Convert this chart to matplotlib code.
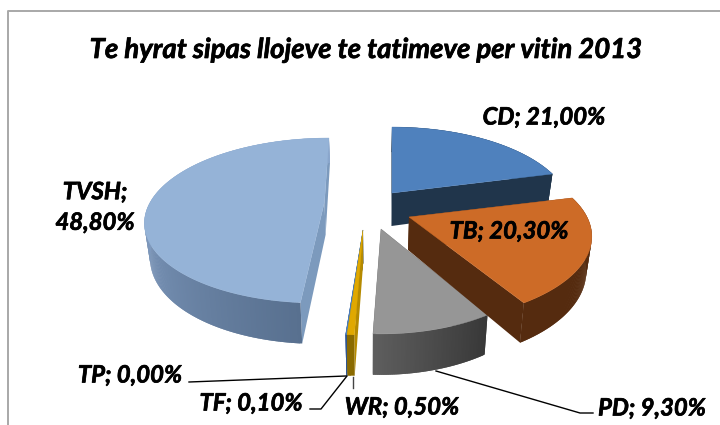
import numpy as np
import matplotlib
matplotlib.use('Agg')
import matplotlib.pyplot as plt
import matplotlib.patheffects as pe
from matplotlib.colors import to_rgb

# DATA
TITLE = 'Te hyrat sipas llojeve te tatimeve per vitin 2013'
names = ['CD', 'TB', 'PD', 'WR', 'TF', 'TP', 'TVSH']
shares = [21.0, 20.3, 9.3, 0.5, 0.1, 0.0, 48.8]

# STYLE
top_colors = ['#4f81bd', '#cd6b27', '#969696', '#e0a800', '#4f81bd', '#4f81bd', '#95b3d7']
face_colors = ['#20354b', '#552b0f', '#3c3c3c', '#b58a00', '#2f5590', '#2f5590', '#7c9abd']
wall_start = ['#20354b', '#552b0f', '#383838', '#8a6a00', '#2f5590', '#2f5590', '#58708f']
wall_end = ['#20354b', '#552b0f', '#5e5e5e', '#8a6a00', '#2f5590', '#2f5590', '#8aa6cc']
wall_fade = [1, 1, 1, 1, 1, 1, 0.55]

# where each slice tip lands on the page, pixels, and its own fit
apex = [(392, 193), (409, 217), (381, 229), (363, 230), (363, 230), (363, 230), (324.5, 201.7)]
rx = [175, 178, 165, 178, 178, 178, 174]
ry = [81, 81, 81, 81, 81, 81, 78.2]
skew = [0, 0, 0, 0, 0, 0, -24]
draw_order = [6, 0, 2, 5, 4, 3, 1]

PERSP = 0.228
WALL = 33
LEAN = 0.025
MID_X = 370

plt.rcParams['font.family'] = ['Lato', 'DejaVu Sans']


def project(theta, i, radius=1.0):
    u = radius * np.sin(theta)
    v = radius * np.cos(theta)
    p = 1 / (1 + PERSP * v)
    sx = apex[i][0] + rx[i] * u * p + skew[i] * (p - 1)
    sy = apex[i][1] - ry[i] * v * p
    return sx, sy, WALL * (1 - 0.24 * v)


def lean(x):
    return x + (MID_X - x) * LEAN


def blend(c1, c2, t):
    a, b = np.array(to_rgb(c1)), np.array(to_rgb(c2))
    return tuple(a + (b - a) * t)


fig = plt.figure(figsize=(7.2, 4.25), dpi=100)
ax = fig.add_axes([0, 0, 1, 1])
ax.set_xlim(0, 720)
ax.set_ylim(425, 0)
ax.axis('off')

# frame
ax.plot([8, 8, 720], [425, 11, 11], color='#a8a8a8', lw=1.4)

edges = np.cumsum([0] + shares) / 100 * 2 * np.pi

for i in draw_order:
    a0, a1 = edges[i], edges[i + 1]
    thetas = np.linspace(a0, a1, max(int(np.degrees(a1 - a0)) * 2, 3))
    x, y, h = project(thetas, i)
    tx, ty, th = project(0.0, i, 0)

    # cut faces
    for xe, ye, he in ((x[0], y[0], h[0]), (x[-1], y[-1], h[-1])):
        ax.fill([tx, xe, lean(xe), lean(tx)], [ty, ye, ye + he, ty + th],
                color=face_colors[i], lw=0)

    # outer wall, in small overlapping strips for the shading
    n = len(x)
    for j in range(n - 1):
        t = min(j / (max(n - 2, 1) * wall_fade[i]), 1)
        c = blend(wall_start[i], wall_end[i], t)
        k = min(j + 2, n - 1)
        ax.fill([x[j], x[k], lean(x[k]), lean(x[j])],
                [y[j], y[k], y[k] + h[k], y[j] + h[j]],
                color=c, lw=0)

    # top
    ax.fill(np.r_[tx, x], np.r_[ty, y], color=top_colors[i], lw=0.3)

# leader lines
leaders = [
    ([189, 346], [382, 376]),
    ([310, 321, 347], [409, 409, 376]),
    ([353, 353], [377, 388]),
    ([436, 580, 593], [371, 413, 413]),
]
for n, (lx, ly) in enumerate(leaders):
    ax.plot(lx, ly, color='#444444' if n == 2 else 'black', lw=1.0)

# lato bold is a bit thin next to the original, so thicken it slightly
heavy = [pe.withStroke(linewidth=0.5, foreground='black')]
label_font = dict(fontsize=17.2, fontweight='bold', fontstyle='italic', color='black',
                  va='center', path_effects=heavy)
ax.text(366, 50, TITLE, ha='center', fontsize=19.8, fontweight='bold', fontstyle='italic',
        va='center', path_effects=heavy)


def label(i, sep=' '):
    return f'{names[i]};{sep}{shares[i]:.2f}%'.replace('.', ',')


ax.text(544, 117, label(0), ha='center', **label_font)
ax.text(509, 231, label(1), ha='center', **label_font)
ax.text(652, 408, label(2), ha='center', **label_font)
ax.text(402, 407, label(3), ha='center', **label_font)
ax.text(251, 403, label(4), ha='center', **label_font)
ax.text(130, 375, label(5), ha='center', **label_font)
ax.text(95, 207, label(6, '\n'), ha='center', linespacing=1.4, **label_font)

fig.savefig('out.png', dpi=100)
